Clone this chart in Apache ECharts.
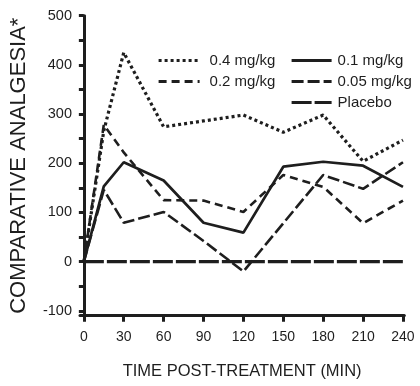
<!DOCTYPE html>
<html>
<head>
<meta charset="utf-8">
<script src="https://cdn.jsdelivr.net/npm/echarts@6/dist/echarts.min.js"></script>
<style>
html,body{margin:0;padding:0;background:#fff;}
#c{width:420px;height:386px;}
</style>
</head>
<body>
<div id="c"></div>
<script>
const times = [0, 15, 30, 60, 90, 120, 150, 180, 210, 240];
const dose04 = [0, 266, 425, 274, 286, 298, 263, 298, 204, 247];
const dose01 = [0, 153, 202, 165, 79, 59, 193, 203, 195, 152];
const dose02 = [0, 278, 222, 125, 124, 101, 176, 152, 78, 124];
const dose005 = [0, 146, 79, 101, 42, -20, 78, 176, 148, 202];
const placebo = [0, 0, 0, 0, 0, 0, 0, 0, 0, 0];
const xTicks = [0, 30, 60, 90, 120, 150, 180, 210, 240];
const yTicks = [-100, -50, 0, 50, 100, 150, 200, 250, 300, 350, 400, 450, 500];
const yLabels = [-100, 0, 100, 200, 300, 400, 500];
const names = ['0.4 mg/kg', '0.2 mg/kg', '0.1 mg/kg', '0.05 mg/kg', 'Placebo'];

const FONT = '"Liberation Sans", Arial, Helvetica, sans-serif';
const INK = '#1e1e1e';
function pairs(arr) { return times.map((t, i) => [t, arr[i]]); }

const chart = echarts.init(document.getElementById('c'), null, {renderer: 'canvas'});
const mk = (name, data, type, width, z) => ({
  name, type: 'line', data: pairs(data), symbol: 'none', z: z || 2,
  lineStyle: {color: INK, width: width, type: type, cap: 'butt'},
  itemStyle: {color: INK}
});
const legendItem = {color: 'transparent', borderColor: 'transparent', borderWidth: 0};
chart.setOption({
  animation: false,
  backgroundColor: '#fff',
  grid: {left: 71, right: 15.7, top: 15.7, height: 300, containLabel: false},
  legend: [
    {
      data: [names[0], names[1]], orient: 'vertical', left: 152, top: 48,
      itemWidth: 41, itemHeight: 14, itemGap: 6, itemStyle: legendItem,
      lineStyle: {width: 3.2},
      textStyle: {fontFamily: FONT, fontSize: 15, color: INK, padding: [0, 0, 0, 5]}
    },
    {
      data: [names[2], names[3], names[4]], orient: 'vertical', left: 285, top: 48,
      itemWidth: 40, itemHeight: 14, itemGap: 6, itemStyle: legendItem,
      lineStyle: {width: 3.2},
      textStyle: {fontFamily: FONT, fontSize: 15, color: INK, padding: [0, 0, 0, 1]}
    }
  ],
  xAxis: {
    type: 'value', min: -2.9, max: 241,
    axisLine: {onZero: false, lineStyle: {color: INK, width: 3}},
    axisTick: {show: true, customValues: xTicks, length: 6, lineStyle: {color: INK, width: 3}},
    axisLabel: {customValues: xTicks, fontFamily: FONT, fontSize: 14, color: INK, margin: 14},
    splitLine: {show: false},
    name: 'TIME POST-TREATMENT (MIN)', nameLocation: 'middle', nameGap: 47,
    nameTextStyle: {fontFamily: FONT, fontSize: 16.5, color: INK}
  },
  yAxis: {
    type: 'value', min: -110, max: 500,
    axisLine: {show: true, lineStyle: {color: INK, width: 3}},
    axisTick: {show: true, customValues: yTicks, length: 5, lineStyle: {color: INK, width: 3}},
    axisLabel: {customValues: yLabels, fontFamily: FONT, fontSize: 14.5, color: INK, margin: 8},
    splitLine: {show: false},
    name: 'COMPARATIVE ANALGESIA*', nameLocation: 'middle', nameGap: 50,
    nameTextStyle: {fontFamily: FONT, fontSize: 22, color: INK}
  },
  series: [
    mk(names[0], dose04, [3, 3], 3.2),
    mk(names[1], dose02, [8, 5], 2.6),
    mk(names[2], dose01, 'solid', 2.7),
    mk(names[3], dose005, [12, 4], 2.6),
    mk(names[4], placebo, [20, 3], 3.4, 1)
  ]
});
</script>
</body>
</html>
